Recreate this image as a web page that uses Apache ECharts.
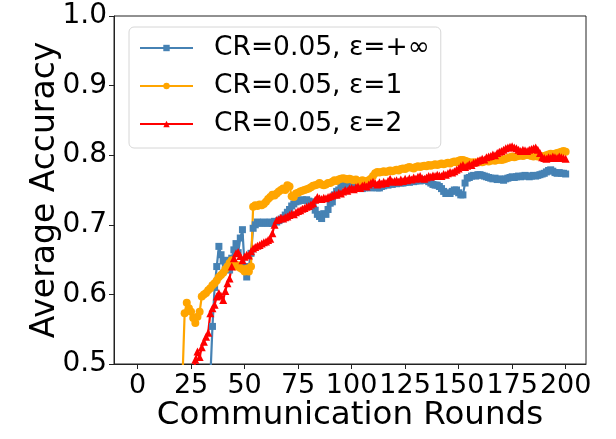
<!DOCTYPE html>
<html>
<head>
<meta charset="utf-8">
<script src="https://cdn.jsdelivr.net/npm/echarts@6/dist/echarts.min.js"></script>
<style>
  html, body { margin: 0; padding: 0; background: #fff; }
  #chart { width: 616px; height: 439px; }
</style>
</head>
<body>
<div id="chart"></div>
<script>
// Average accuracy per communication round, CR = 0.05, three privacy budgets.
const seriesNames = ['CR=0.05, ε=+∞', 'CR=0.05, ε=1', 'CR=0.05, ε=2'];
const xTicks = [0, 25, 50, 75, 100, 125, 150, 175, 200];
const yTicks = [0.5, 0.6, 0.7, 0.8, 0.9, 1.0];

// ε = +∞ (no noise)
const accInf = [
  0.10,0.10,0.11,0.12,0.13,0.14,0.16,0.17,0.19,0.20,
  0.22,0.23,0.25,0.26,0.28,0.29,0.31,0.32,0.33,0.35,
  0.36,0.37,0.38,0.39,0.40,0.41,0.42,0.43,0.44,0.45,
  0.46,0.46,0.47,0.48,0.554,0.610,0.640,0.669,0.657,0.648,
  0.640,0.649,0.635,0.652,0.664,0.673,0.660,0.681,0.693,0.640,
  0.625,0.640,0.659,0.695,0.700,0.704,0.703,0.702,0.704,0.703,
  0.702,0.704,0.702,0.705,0.704,0.706,0.708,0.710,0.714,0.718,
  0.722,0.727,0.730,0.733,0.734,0.735,0.736,0.735,0.736,0.734,
  0.733,0.728,0.721,0.715,0.712,0.709,0.716,0.715,0.722,0.731,
  0.733,0.743,0.748,0.750,0.757,0.758,0.760,0.757,0.755,0.756,
  0.754,0.755,0.753,0.754,0.752,0.753,0.755,0.754,0.753,0.755,
  0.754,0.753,0.753,0.755,0.756,0.758,0.757,0.759,0.758,0.760,
  0.759,0.761,0.760,0.760,0.761,0.762,0.761,0.763,0.762,0.763,
  0.764,0.763,0.765,0.764,0.764,0.762,0.760,0.758,0.757,0.757,
  0.755,0.752,0.748,0.745,0.746,0.745,0.748,0.750,0.750,0.746,
  0.743,0.743,0.760,0.767,0.768,0.770,0.771,0.770,0.772,0.772,
  0.771,0.770,0.769,0.768,0.767,0.766,0.767,0.765,0.766,0.765,
  0.764,0.766,0.767,0.768,0.769,0.768,0.769,0.770,0.769,0.770,
  0.771,0.770,0.769,0.770,0.771,0.770,0.771,0.772,0.773,0.774,
  0.776,0.778,0.779,0.777,0.775,0.774,0.775,0.774,0.774,0.773
];

// ε = 1
const accEps1 = [
  0.10,0.14,0.18,0.21,0.25,0.27,0.30,0.32,0.34,0.36,
  0.38,0.39,0.41,0.42,0.43,0.44,0.45,0.46,0.47,0.47,
  0.48,0.573,0.588,0.580,0.575,0.566,0.559,0.568,0.575,0.597,
  0.600,0.602,0.606,0.609,0.613,0.616,0.620,0.625,0.628,0.631,
  0.636,0.640,0.645,0.649,0.645,0.640,0.642,0.638,0.636,0.633,
  0.637,0.633,0.640,0.726,0.728,0.727,0.729,0.728,0.730,0.733,
  0.737,0.740,0.743,0.742,0.745,0.748,0.750,0.752,0.750,0.757,
  0.755,0.741,0.740,0.745,0.746,0.748,0.749,0.750,0.751,0.752,
  0.754,0.756,0.757,0.758,0.760,0.758,0.757,0.758,0.760,0.760,
  0.762,0.764,0.763,0.765,0.766,0.767,0.766,0.765,0.766,0.765,
  0.764,0.765,0.763,0.762,0.764,0.763,0.762,0.764,0.766,0.770,
  0.774,0.776,0.775,0.776,0.777,0.776,0.777,0.778,0.777,0.778,
  0.779,0.778,0.780,0.781,0.780,0.782,0.783,0.782,0.781,0.783,
  0.784,0.783,0.784,0.785,0.784,0.786,0.785,0.786,0.787,0.786,
  0.787,0.788,0.787,0.788,0.789,0.788,0.790,0.791,0.790,0.792,
  0.793,0.793,0.792,0.791,0.790,0.789,0.790,0.789,0.790,0.791,
  0.790,0.791,0.792,0.791,0.792,0.793,0.792,0.793,0.794,0.793,
  0.794,0.795,0.796,0.797,0.798,0.797,0.798,0.799,0.800,0.799,
  0.800,0.801,0.800,0.799,0.798,0.799,0.798,0.799,0.798,0.799,
  0.800,0.801,0.802,0.801,0.802,0.803,0.804,0.805,0.806,0.805
];

// ε = 2
const accEps2 = [
  0.08,0.11,0.14,0.17,0.20,0.22,0.25,0.27,0.29,0.31,
  0.33,0.35,0.36,0.38,0.39,0.40,0.41,0.42,0.43,0.44,
  0.45,0.46,0.46,0.47,0.48,0.48,0.506,0.518,0.510,0.524,
  0.532,0.539,0.545,0.573,0.580,0.585,0.597,0.602,0.598,0.592,
  0.605,0.616,0.623,0.640,0.652,0.659,0.661,0.655,0.649,0.654,
  0.657,0.656,0.662,0.666,0.668,0.670,0.671,0.673,0.675,0.676,
  0.678,0.680,0.688,0.700,0.707,0.708,0.710,0.709,0.711,0.712,
  0.714,0.716,0.715,0.718,0.720,0.721,0.723,0.724,0.726,0.727,
  0.729,0.731,0.736,0.740,0.738,0.737,0.739,0.738,0.740,0.741,
  0.742,0.744,0.743,0.746,0.745,0.748,0.750,0.749,0.752,0.753,
  0.751,0.754,0.755,0.753,0.756,0.757,0.755,0.758,0.760,0.762,
  0.760,0.758,0.761,0.759,0.762,0.760,0.763,0.766,0.762,0.763,
  0.764,0.762,0.765,0.763,0.766,0.764,0.767,0.765,0.768,0.766,
  0.769,0.770,0.767,0.766,0.768,0.770,0.769,0.771,0.770,0.772,
  0.771,0.770,0.773,0.772,0.774,0.776,0.775,0.777,0.779,0.781,
  0.784,0.786,0.783,0.785,0.787,0.786,0.789,0.790,0.792,0.793,
  0.795,0.794,0.797,0.798,0.799,0.801,0.800,0.803,0.805,0.806,
  0.808,0.810,0.811,0.812,0.813,0.811,0.810,0.808,0.806,0.808,
  0.807,0.806,0.808,0.809,0.810,0.811,0.808,0.803,0.797,0.796,
  0.795,0.797,0.796,0.798,0.797,0.796,0.798,0.797,0.796,0.795
];

const rounds = accInf.map((_, i) => i + 1);
const pair = arr => arr.map((v, i) => [rounds[i], v]);

const FONT = 'DejaVu Sans';
const chart = echarts.init(document.getElementById('chart'), null, { renderer: 'canvas' });

function lineSeries(name, data, color, symbol, size) {
  return {
    name, type: 'line', data: pair(data),
    symbol, symbolSize: size, showAllSymbol: true,
    clip: true,
    lineStyle: { color, width: 2.2 },
    itemStyle: { color, borderWidth: 0 },
    emphasis: { disabled: true }
  };
}

chart.setOption({
  animation: false,
  grid: {
    left: 114, top: 16, width: 472, height: 348,
    show: true, borderColor: '#222', borderWidth: 1, backgroundColor: 'transparent'
  },
  legend: {
    orient: 'vertical', left: 129, top: 27,
    padding: [6, 11, 9, 10],
    itemWidth: 53, itemHeight: 8, itemGap: 8,
    backgroundColor: 'rgba(255,255,255,0.85)',
    borderColor: '#d6d6d6', borderWidth: 1, borderRadius: 5,
    textStyle: { fontFamily: FONT, fontSize: 26.5, color: '#000', lineHeight: 30, padding: [0, 0, 0, 16] },
    data: seriesNames
  },
  xAxis: {
    type: 'value', min: -11, max: 209.5,
    name: 'Communication Rounds', nameLocation: 'middle', nameGap: 35,
    nameMoveOverlap: false,
    nameTextStyle: { fontFamily: FONT, fontSize: 32.5, color: '#000', verticalAlign: 'top' },
    axisLine: { show: true, onZero: false, lineStyle: { color: '#222', width: 1 } },
    axisTick: { show: true, length: 5, inside: false, customValues: xTicks, lineStyle: { color: '#222' } },
    axisLabel: { customValues: xTicks, fontFamily: FONT, fontSize: 27, color: '#000', margin: 8 },
    splitLine: { show: false }
  },
  yAxis: {
    type: 'value', min: 0.5, max: 1.0, interval: 0.1,
    name: 'Average Accuracy', nameLocation: 'middle', nameGap: 52,
    nameMoveOverlap: false,
    nameTextStyle: { fontFamily: FONT, fontSize: 33, color: '#000', verticalAlign: 'bottom' },
    axisLine: { show: true, onZero: false, lineStyle: { color: '#222', width: 1 } },
    axisTick: { show: true, length: 5, inside: false, lineStyle: { color: '#222' } },
    axisLabel: {
      fontFamily: FONT, fontSize: 28, color: '#000', margin: 7,
      formatter: v => yTicks.some(t => Math.abs(t - v) < 1e-9) ? v.toFixed(1) : ''
    },
    splitLine: { show: false }
  },
  series: [
    lineSeries(seriesNames[0], accInf, '#4682b4', 'rect', 7),
    lineSeries(seriesNames[1], accEps1, '#ffa500', 'circle', 8),
    lineSeries(seriesNames[2], accEps2, '#ff0000', 'triangle', 8)
  ]
});
</script>
</body>
</html>
